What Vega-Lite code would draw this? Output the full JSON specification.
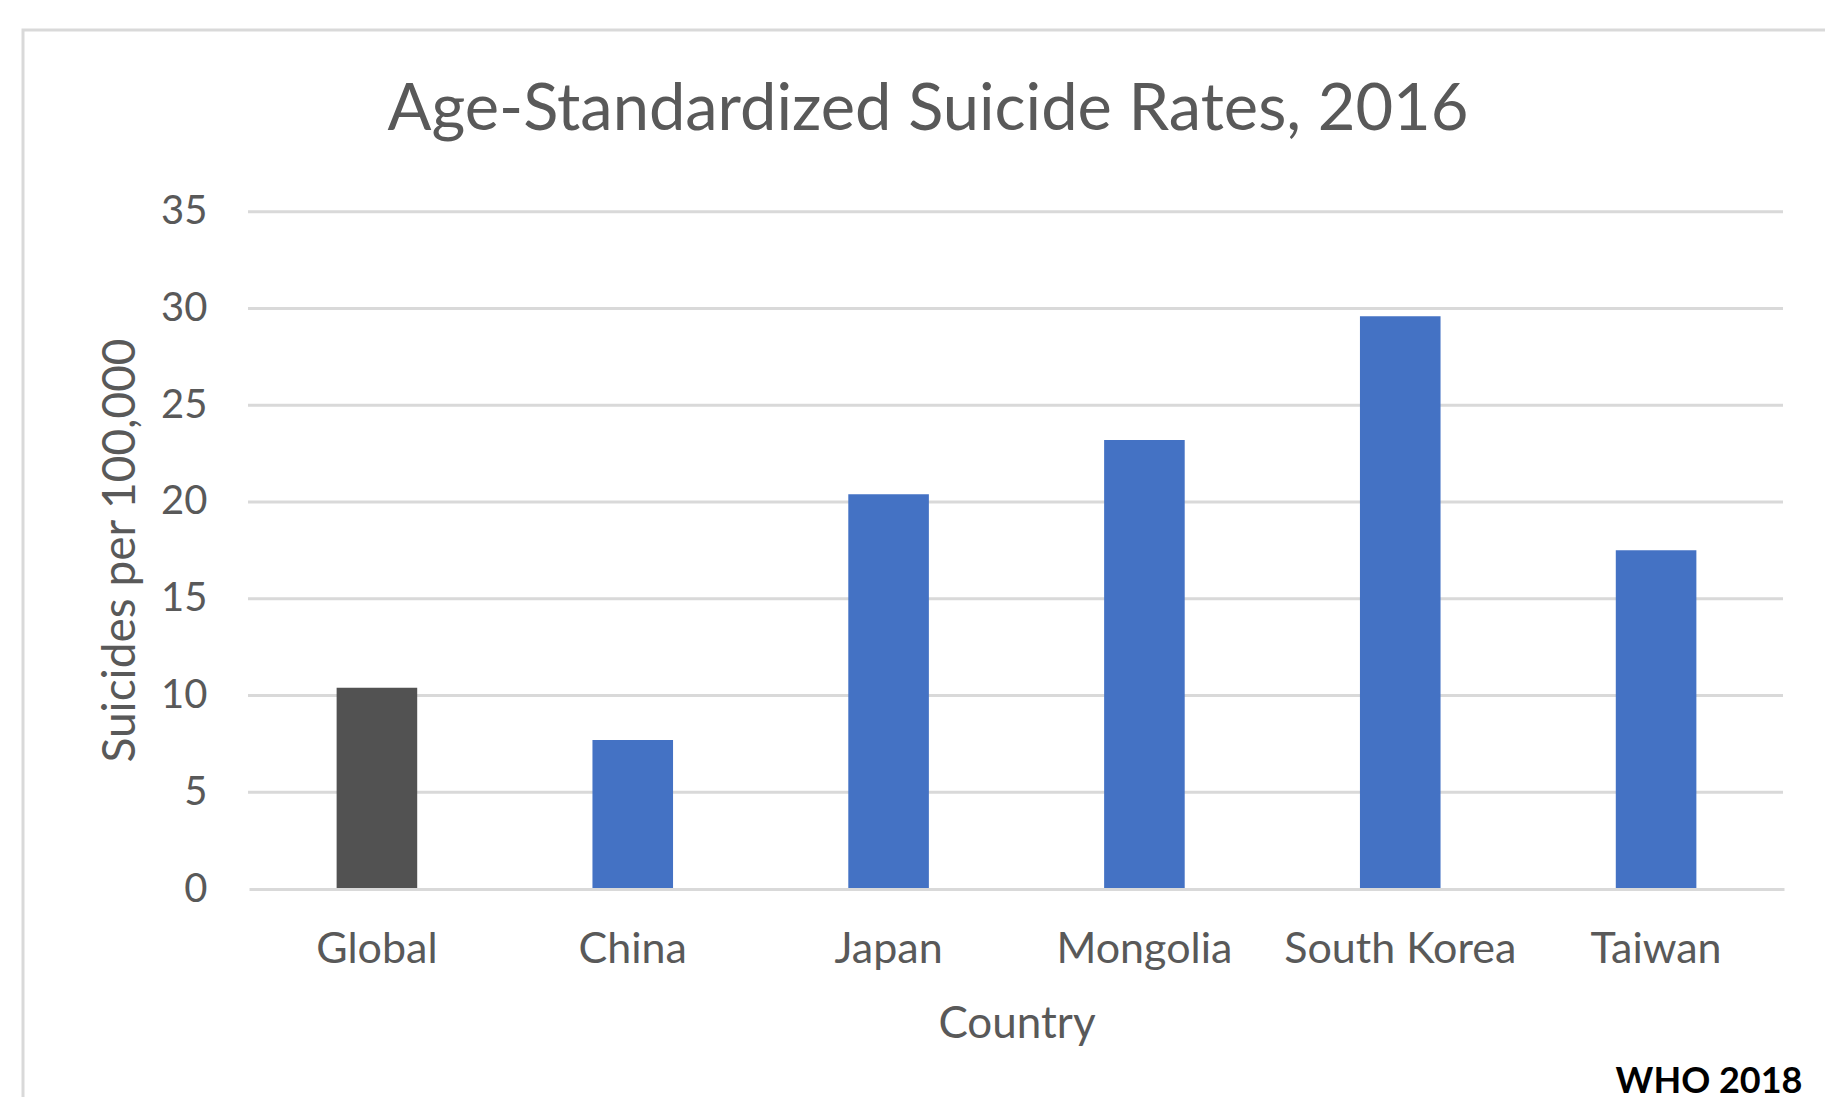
{
  "$schema": "https://vega.github.io/schema/vega-lite/v6.json",
  "autosize": {"type": "none"},
  "width": 1810,
  "height": 1080,
  "padding": {"left": 23, "top": 30, "right": 0, "bottom": 0},
  "background": "white",
  "config": {
    "view": {"stroke": "#d9d9d9", "strokeWidth": 3},
    "font": "Lato"
  },
  "title": {
    "text": "Age-Standardized Suicide Rates, 2016",
    "anchor": "middle",
    "frame": "group",
    "font": "Lato",
    "fontSize": 65,
    "fontWeight": "normal",
    "color": "#595959",
    "baseline": "alphabetic",
    "offset": -165
  },
  "layer": [
    {
      "data": {"values": [{"v": 5}, {"v": 10}, {"v": 15}, {"v": 20}, {"v": 25}, {"v": 30}, {"v": 35}]},
      "mark": {"type": "rule", "color": "#d9d9d9", "strokeWidth": 3},
      "encoding": {
        "y": {
          "field": "v",
          "type": "quantitative",
          "scale": {"domain": [0, 35], "range": [859, 181.7], "nice": false, "zero": true},
          "axis": {
            "orient": "left",
            "offset": -225,
            "domain": false,
            "ticks": false,
            "grid": false,
            "values": [0, 5, 10, 15, 20, 25, 30, 35],
            "labelPadding": 41,
            "labelFont": "Lato",
            "labelFontSize": 40,
            "labelColor": "#595959",
            "title": "Suicides per 100,000",
            "titleFont": "Lato",
            "titleFontSize": 46,
            "titleFontWeight": "normal",
            "titleColor": "#595959",
            "titleX": -128,
            "titleY": 520,
            "titleBaseline": "middle",
            "titleAlign": "center",
            "titleAngle": -90
          }
        },
        "x": {
          "datum": 0,
          "type": "quantitative",
          "scale": {"domain": [0, 1], "range": [225, 1760], "nice": false, "zero": false},
          "axis": {
            "orient": "top",
            "domain": false,
            "ticks": false,
            "labels": false,
            "grid": false,
            "title": "WHO 2018",
            "titleX": 1779,
            "titleY": 1051,
            "titleAlign": "right",
            "titleBaseline": "middle",
            "titleAngle": 0,
            "titleFont": "Lato",
            "titleFontSize": 36,
            "titleFontWeight": "bold",
            "titleColor": "#000000"
          }
        },
        "x2": {"datum": 1}
      }
    },
    {
      "data": {
        "values": [
          {"country": "Global", "rate": 10.4},
          {"country": "China", "rate": 7.7},
          {"country": "Japan", "rate": 20.4},
          {"country": "Mongolia", "rate": 23.2},
          {"country": "South Korea", "rate": 29.6},
          {"country": "Taiwan", "rate": 17.5}
        ]
      },
      "mark": {"type": "bar"},
      "encoding": {
        "x": {
          "field": "country",
          "type": "nominal",
          "sort": null,
          "scale": {"range": [226, 1761], "paddingInner": 0.685, "paddingOuter": 0.3425},
          "axis": {
            "orient": "bottom",
            "offset": -221,
            "zindex": 1,
            "domain": true,
            "domainColor": "#d9d9d9",
            "domainWidth": 3,
            "ticks": false,
            "grid": false,
            "labelAngle": 0,
            "labelLimit": 0,
            "labelFont": "Lato",
            "labelFontSize": 43,
            "labelColor": "#595959",
            "labelBaseline": "middle",
            "labelPadding": 60,
            "title": "Country",
            "titleFont": "Lato",
            "titleFontSize": 44,
            "titleFontWeight": "normal",
            "titleColor": "#595959",
            "titleY": 135,
            "titleBaseline": "middle"
          }
        },
        "y": {
          "field": "rate",
          "type": "quantitative",
          "axis": {
            "orient": "left",
            "offset": -225,
            "domain": false,
            "ticks": false,
            "grid": false,
            "values": [0, 5, 10, 15, 20, 25, 30, 35],
            "labelPadding": 41,
            "labelFont": "Lato",
            "labelFontSize": 40,
            "labelColor": "#595959",
            "title": "Suicides per 100,000",
            "titleFont": "Lato",
            "titleFontSize": 46,
            "titleFontWeight": "normal",
            "titleColor": "#595959",
            "titleX": -128,
            "titleY": 520,
            "titleBaseline": "middle",
            "titleAlign": "center",
            "titleAngle": -90
          }
        },
        "color": {
          "field": "country",
          "type": "nominal",
          "scale": {
            "domain": ["Global", "China", "Japan", "Mongolia", "South Korea", "Taiwan"],
            "range": ["#525252", "#4472c4", "#4472c4", "#4472c4", "#4472c4", "#4472c4"]
          },
          "legend": null
        }
      }
    }
  ],
  "resolve": {"scale": {"x": "independent"}, "axis": {"x": "independent"}}
}
